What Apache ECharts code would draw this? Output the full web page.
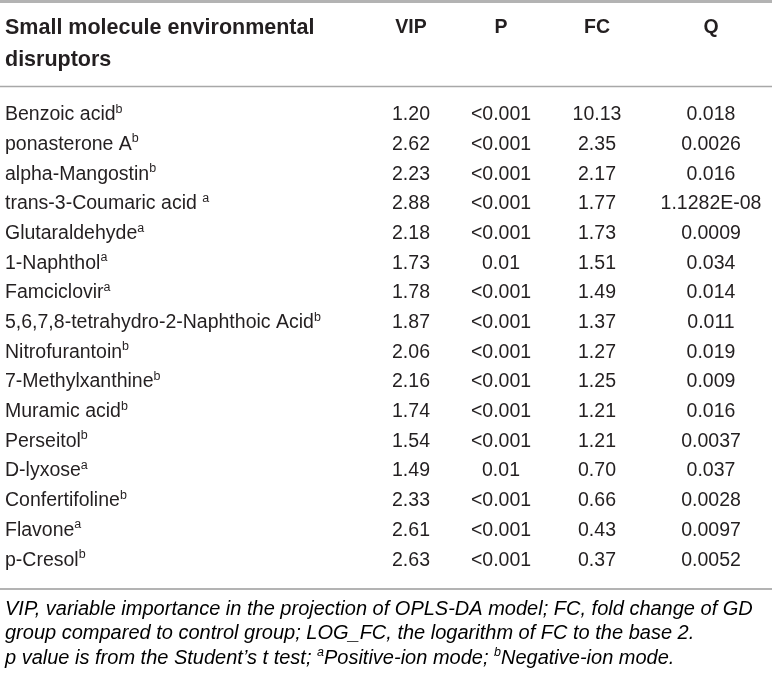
<!DOCTYPE html>
<html>
<head>
<meta charset="utf-8">
<script src="https://cdn.jsdelivr.net/npm/echarts@6/dist/echarts.min.js"></script>
<style>html,body{margin:0;padding:0;background:#fff;}#c{width:772px;height:680px;}</style>
</head>
<body>
<div id="c"></div>
<script>
// ---- data ----
const headerFirst = 'Small molecule environmental\ndisruptors';
const columns = ['VIP', 'P', 'FC', 'Q'];
const names = ['Benzoic acid', 'ponasterone A', 'alpha-Mangostin', 'trans-3-Coumaric acid ', 'Glutaraldehyde', '1-Naphthol', 'Famciclovir', '5,6,7,8-tetrahydro-2-Naphthoic Acid', 'Nitrofurantoin', '7-Methylxanthine', 'Muramic acid', 'Perseitol', 'D-lyxose', 'Confertifoline', 'Flavone', 'p-Cresol'];
const ionMode = ['b', 'b', 'b', 'a', 'a', 'a', 'a', 'b', 'b', 'b', 'b', 'b', 'a', 'b', 'a', 'b'];
const vip = ['1.20', '2.62', '2.23', '2.88', '2.18', '1.73', '1.78', '1.87', '2.06', '2.16', '1.74', '1.54', '1.49', '2.33', '2.61', '2.63'];
const pval = ['<0.001', '<0.001', '<0.001', '<0.001', '<0.001', '0.01', '<0.001', '<0.001', '<0.001', '<0.001', '<0.001', '<0.001', '0.01', '<0.001', '<0.001', '<0.001'];
const fc = ['10.13', '2.35', '2.17', '1.77', '1.73', '1.51', '1.49', '1.37', '1.27', '1.25', '1.21', '1.21', '0.70', '0.66', '0.43', '0.37'];
const qval = ['0.018', '0.0026', '0.016', '1.1282E-08', '0.0009', '0.034', '0.014', '0.011', '0.019', '0.009', '0.016', '0.0037', '0.037', '0.0028', '0.0097', '0.0052'];
const footnote = [
  'VIP, variable importance in the projection of OPLS-DA model; FC, fold change of GD',
  'group compared to control group; LOG_FC, the logarithm of FC to the base 2.',
  ['p value is from the Student\u2019s t test; ', 'a', 'Positive-ion mode; ', 'b', 'Negative-ion mode.']
];

// ---- layout / style ----
const FONT = '"Liberation Sans", Arial, Helvetica, sans-serif';
const TXT = '#231f20';
const bodyTop = 100, bodyHeight = 475;
const colCenters = [411, 501, 597, 711];
const colWidth = 80;
const headerY = 28;
const bodySize = 19.5;

const colData = [vip, pval, fc, qval];

const grids = [{ left: 5, top: bodyTop, width: 340, height: bodyHeight }];
const xAxes = [{ gridIndex: 0, type: 'value', show: false, min: 0, max: 1 }];
const yAxes = [{
  gridIndex: 0, type: 'category', data: names, inverse: true,
  axisLine: { show: false }, axisTick: { show: false }, splitLine: { show: false },
  axisLabel: {
    align: 'left', margin: 0, interval: 0,
    formatter: (v, i) => '{n|' + v + '}{s|' + ionMode[i] + '}',
    rich: {
      n: { fontFamily: FONT, fontSize: bodySize, color: TXT, lineHeight: 24 },
      s: { fontFamily: FONT, fontSize: 12.5, color: TXT, lineHeight: 12, verticalAlign: 'top' }
    }
  }
}];
const series = [];

columns.forEach((c, k) => {
  const gi = k + 1;
  grids.push({ left: colCenters[k] - colWidth / 2, top: bodyTop, width: colWidth, height: bodyHeight });
  xAxes.push({
    gridIndex: gi, type: 'category', data: [c], position: 'top',
    axisLine: { show: false }, axisTick: { show: false },
    axisLabel: { margin: bodyTop - headerY, fontFamily: FONT, fontSize: 19.5, fontWeight: 'bold', color: TXT, verticalAlign: 'middle', interval: 0 }
  });
  yAxes.push({ gridIndex: gi, type: 'category', data: names, inverse: true, show: false });
  series.push({
    type: 'scatter', xAxisIndex: gi, yAxisIndex: gi,
    symbolSize: 1, itemStyle: { color: 'rgba(0,0,0,0)', opacity: 1 }, silent: true,
    data: colData[k].map((v, i) => ({ value: [c, i], txt: v })),
    label: {
      show: true, position: 'inside', fontFamily: FONT, fontSize: bodySize, color: TXT, opacity: 1,
      formatter: p => p.data.txt
    }
  });
});

const footRich = {
  i: { fontFamily: FONT, fontSize: 20, fontStyle: 'italic', color: TXT, lineHeight: 24.5 },
  s: { fontFamily: FONT, fontSize: 12.5, fontStyle: 'italic', color: TXT, lineHeight: 12, verticalAlign: 'top' }
};
const footText = footnote.map(l => Array.isArray(l)
  ? l.map((t, j) => (j % 2 === 1 ? '{s|' + t + '}' : '{i|' + t + '}')).join('')
  : '{i|' + l + '}').join('\n');

const chart = echarts.init(document.getElementById('c'), null, { renderer: 'canvas' });
chart.setOption({
  backgroundColor: '#fff',
  animation: false,
  grid: grids, xAxis: xAxes, yAxis: yAxes, series: series,
  graphic: [
    { type: 'line', shape: { x1: 0, y1: 1.5, x2: 772, y2: 1.5 }, style: { stroke: '#b3b3b3', lineWidth: 3 } },
    { type: 'line', shape: { x1: 0, y1: 86.5, x2: 772, y2: 86.5 }, style: { stroke: '#a8a8a8', lineWidth: 1.5 } },
    { type: 'line', shape: { x1: 0, y1: 589, x2: 772, y2: 589 }, style: { stroke: '#9a9a9a', lineWidth: 1.5 } },
    { type: 'text', left: 5, top: 12, style: { text: headerFirst, font: 'bold 21.5px ' + FONT, fill: TXT, lineHeight: 32 } },
    { type: 'text', left: 5, top: 599, style: { text: footText, rich: footRich } }
  ]
});
</script>
</body>
</html>
